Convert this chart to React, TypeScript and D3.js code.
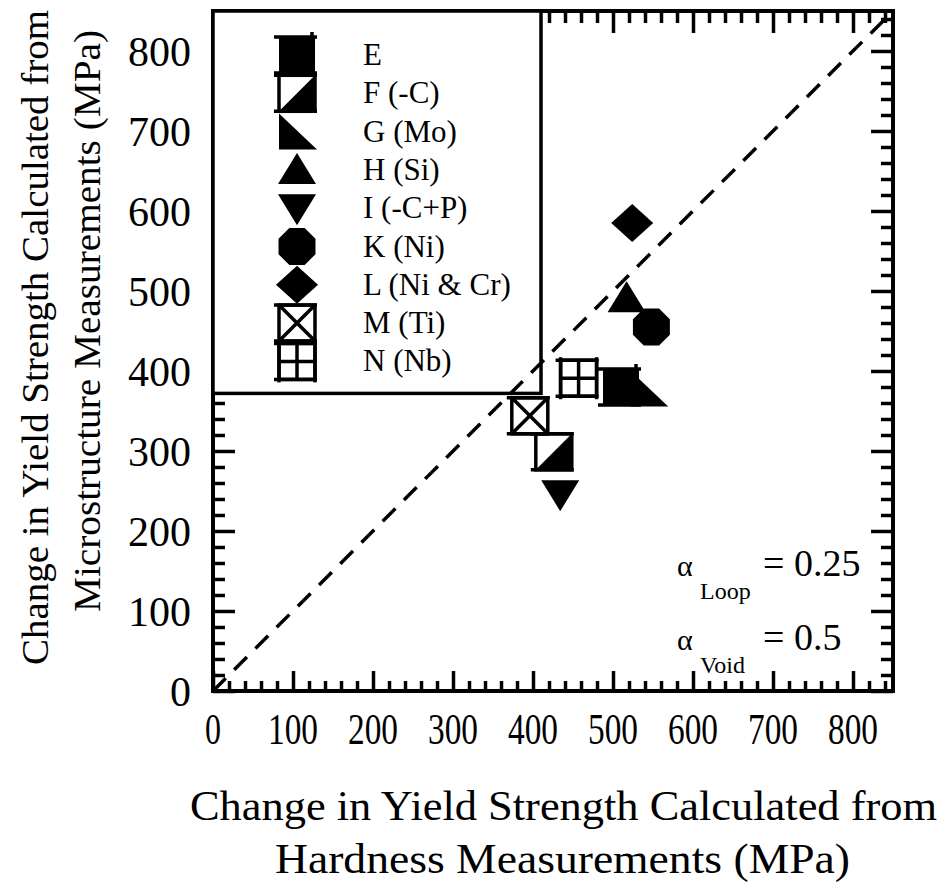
import * as d3 from 'd3';
import React, { useEffect, useRef } from 'react';

// steels: label, marker kind, hardness-based and microstructure-based strength change (MPa)
const seriesNames = ['E', 'F (-C)', 'G (Mo)', 'H (Si)', 'I (-C+P)', 'K (Ni)', 'L (Ni & Cr)', 'M (Ti)', 'N (Nb)'];
const markerKinds = ['square', 'halfSquare', 'rightTri', 'triUp', 'triDown', 'octagon', 'diamond', 'boxX', 'boxPlus'];
const hardnessMPa = [510, 426, 544, 517, 434, 548, 524, 396, 457];
const microMPa = [380, 299, 378, 491, 246, 455, 585, 344, 391];
const majorTicks = [0, 100, 200, 300, 400, 500, 600, 700, 800];
const minorTicks = d3.range(0, 851, 20).filter(v => v % 100 !== 0);
const xTitle = ['Change in Yield Strength Calculated from', 'Hardness Measurements (MPa)'];
const yTitle = ['Change in Yield Strength Calculated from', 'Microstructure Measurements (MPa)'];

const FONT = '"Liberation Serif", "Times New Roman", serif';

function drawMarker(g: d3.Selection<SVGGElement, unknown, null, undefined>, kind: string, cx: number, cy: number) {
  const h = 18;
  const line = (x1: number, y1: number, x2: number, y2: number) =>
    g.append('line').attr('x1', x1).attr('y1', y1).attr('x2', x2).attr('y2', y2)
      .attr('stroke', '#000').attr('stroke-width', 3.5);
  const poly = (pts: [number, number][], fill = '#000') =>
    g.append('polygon').attr('points', pts.map(p => p.join(',')).join(' ')).attr('fill', fill);
  const caps = () => {
    line(cx - h - 5, cy - h, cx + h + 2, cy - h);
    line(cx - h - 5, cy + h, cx + h + 2, cy + h);
  };
  const box = () =>
    g.append('rect').attr('x', cx - h).attr('y', cy - h).attr('width', 2 * h).attr('height', 2 * h)
      .attr('fill', '#fff').attr('stroke', '#000').attr('stroke-width', 3.5);

  switch (kind) {
    case 'square':
      g.append('rect').attr('x', cx - h).attr('y', cy - h).attr('width', 2 * h).attr('height', 2 * h).attr('fill', '#000');
      caps();
      line(cx + h - 3, cy - h - 5, cx + h - 3, cy - h);
      break;
    case 'halfSquare':
      box();
      poly([[cx - h, cy + h], [cx + h, cy - h], [cx + h, cy + h]]);
      caps();
      break;
    case 'rightTri':
      poly([[cx - h, cy - h], [cx - h, cy + h], [cx + h + 2, cy + h]]);
      break;
    case 'triUp':
      poly([[cx, cy - h + 1], [cx - h - 1, cy + h - 4], [cx + h + 1, cy + h - 4]]);
      break;
    case 'triDown':
      poly([[cx, cy + h - 1], [cx - h - 1, cy - h + 4], [cx + h + 1, cy - h + 4]]);
      break;
    case 'octagon': {
      const r = h + 2;
      poly(d3.range(8).map(k => {
        const a = Math.PI / 8 + (k * Math.PI) / 4;
        return [cx + r * Math.cos(a), cy + r * Math.sin(a)] as [number, number];
      }));
      break;
    }
    case 'diamond':
      poly([[cx, cy - h - 1], [cx + h + 3, cy], [cx, cy + h + 1], [cx - h - 3, cy]]);
      break;
    case 'boxX':
      box();
      line(cx - h, cy - h, cx + h, cy + h);
      line(cx - h, cy + h, cx + h, cy - h);
      caps();
      break;
    case 'boxPlus':
      box();
      line(cx, cy - h, cx, cy + h);
      line(cx - h, cy, cx + h, cy);
      line(cx - h, cy - h - 3, cx - h, cy + h + 3);
      line(cx + h, cy - h - 3, cx + h, cy + h + 3);
      caps();
      break;
  }
}

export default function App() {
  const ref = useRef<SVGSVGElement>(null);

  useEffect(() => {
    if (!ref.current) return;
    const svg = d3.select(ref.current);
    svg.selectAll('*').remove();

    const left = 213, right = 893, top = 11, bottom = 691;
    const x = d3.scaleLinear().domain([0, 850]).range([left, right]);
    const y = d3.scaleLinear().domain([0, 850]).range([bottom, top]);

    const root = svg.append('g');

    // inward ticks on all four sides
    const tickStyle = (sel: d3.Selection<SVGGElement, unknown, null, undefined>) => {
      sel.select('.domain').remove();
      sel.selectAll('line').attr('stroke', '#000').attr('stroke-width', 3.5);
      sel.selectAll('text').remove();
    };
    const addAxis = (axis: d3.Axis<d3.NumberValue>, tx: number, ty: number) =>
      root.append('g').attr('transform', `translate(${tx},${ty})`).call(axis).call(tickStyle);

    addAxis(d3.axisBottom(x).tickValues(minorTicks).tickSize(-10), 0, bottom);
    addAxis(d3.axisBottom(x).tickValues(majorTicks).tickSize(-20), 0, bottom);
    addAxis(d3.axisTop(x).tickValues(minorTicks).tickSize(-12), 0, top);
    addAxis(d3.axisTop(x).tickValues(majorTicks).tickSize(-22), 0, top);
    addAxis(d3.axisLeft(y).tickValues(minorTicks).tickSize(-12), left, 0);
    addAxis(d3.axisLeft(y).tickValues(majorTicks).tickSize(-22), left, 0);
    addAxis(d3.axisRight(y).tickValues(minorTicks).tickSize(-12), right, 0);
    addAxis(d3.axisRight(y).tickValues(majorTicks).tickSize(-22), right, 0);

    // frame
    root.append('rect')
      .attr('x', left).attr('y', top).attr('width', right - left).attr('height', bottom - top)
      .attr('fill', 'none').attr('stroke', '#000').attr('stroke-width', 4);

    // tick labels
    root.append('g').selectAll('text').data(majorTicks).enter().append('text')
      .attr('x', d => x(d)).attr('y', 744)
      .attr('text-anchor', 'middle')
      .attr('font-family', FONT).attr('font-size', 44)
      .attr('textLength', d => (d === 0 ? 16 : 50)).attr('lengthAdjust', 'spacingAndGlyphs')
      .text(d => d);
    root.append('g').selectAll('text').data(majorTicks).enter().append('text')
      .attr('x', 191).attr('y', d => y(d)).attr('dy', '0.35em')
      .attr('text-anchor', 'end')
      .attr('font-family', FONT).attr('font-size', 42)
      .text(d => d);

    // legend box (covers the ticks behind it)
    const legendW = x(410) - left, legendH = y(372) - top;
    root.append('rect')
      .attr('x', left).attr('y', top).attr('width', legendW).attr('height', legendH)
      .attr('fill', '#fff').attr('stroke', '#000').attr('stroke-width', 3.5);
    const legend = root.append('g');
    seriesNames.forEach((name, i) => {
      const ry = 55 + i * 38.3;
      drawMarker(legend, markerKinds[i], 297, ry);
      legend.append('text')
        .attr('x', 363).attr('y', ry + 10)
        .attr('font-family', FONT).attr('font-size', 31)
        .text(name);
    });

    // 1:1 line
    root.append('line')
      .attr('x1', x(0)).attr('y1', y(0)).attr('x2', x(845)).attr('y2', y(845))
      .attr('stroke', '#000').attr('stroke-width', 3.5)
      .attr('stroke-dasharray', '18 12');

    // data markers
    const pts = root.append('g');
    seriesNames.forEach((_, i) => drawMarker(pts, markerKinds[i], x(hardnessMPa[i]), y(microMPa[i])));

    // alpha annotation
    const ann = root.append('g').attr('font-family', FONT);
    const alphaRow = (sub: string, val: string, base: number) => {
      ann.append('text').attr('x', 677).attr('y', base).attr('font-size', 30).text('α');
      ann.append('text').attr('x', 700).attr('y', base + 23).attr('font-size', 24).text(sub);
      ann.append('text').attr('x', 763).attr('y', base).attr('font-size', 38).text(val);
    };
    alphaRow('Loop', '= 0.25', 576);
    alphaRow('Void', '= 0.5', 650);

    // axis titles
    root.append('text').attr('x', 190).attr('y', 820)
      .attr('font-family', FONT).attr('font-size', 42)
      .attr('textLength', 747).attr('lengthAdjust', 'spacingAndGlyphs')
      .text(xTitle[0]);
    root.append('text').attr('x', 275).attr('y', 873)
      .attr('font-family', FONT).attr('font-size', 42)
      .attr('textLength', 575).attr('lengthAdjust', 'spacingAndGlyphs')
      .text(xTitle[1]);
    root.append('text').attr('transform', 'translate(48,665) rotate(-90)')
      .attr('font-family', FONT).attr('font-size', 38)
      .attr('textLength', 655).attr('lengthAdjust', 'spacingAndGlyphs')
      .text(yTitle[0]);
    root.append('text').attr('transform', 'translate(100,612) rotate(-90)')
      .attr('font-family', FONT).attr('font-size', 38)
      .attr('textLength', 582).attr('lengthAdjust', 'spacingAndGlyphs')
      .text(yTitle[1]);
  }, []);

  return (
    <svg
      ref={ref}
      width={941}
      height={883}
      style={{ position: 'absolute', left: 0, top: 0, background: '#fff' }}
    />
  );
}
